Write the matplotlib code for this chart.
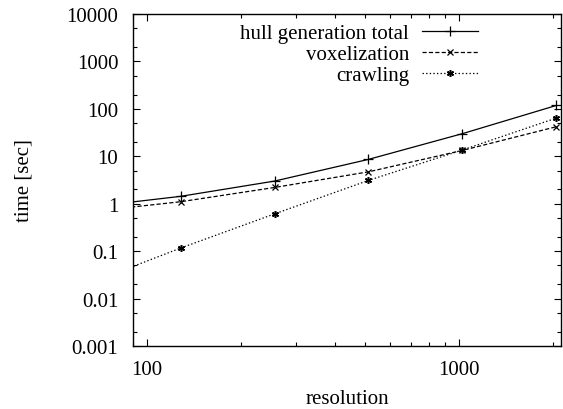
import numpy as np
import matplotlib
matplotlib.use("Agg")
import matplotlib.pyplot as plt
from matplotlib.ticker import LogLocator, FixedLocator, NullFormatter

plt.rcParams['font.family'] = ['Liberation Serif', 'DejaVu Serif']
plt.rcParams['lines.scale_dashes'] = False

# data (resolution vs. seconds)
resolution = [64, 128, 256, 512, 1024, 2048]
hull_total = [0.84, 1.43, 3.0, 8.6, 30.0, 118.0]
voxelization = [0.67, 1.1, 2.2, 4.7, 13.3, 42.0]
crawling = [0.020, 0.116, 0.61, 3.1, 13.6, 64.0]

xticks = [100, 1000]
yticks = [0.001, 0.01, 0.1, 1, 10, 100, 1000, 10000]
ytick_labels = ['0.001', '0.01', '0.1', '1', '10', '100', '1000', '10000']

fs = 15
fig = plt.figure(figsize=(5.63, 4.10), dpi=100)
ax = fig.add_axes([0.236, 0.1537, 0.7605, 0.8097])

ax.plot(resolution, hull_total, color='black', lw=0.9, ls='-',
        marker='+', ms=7, mew=0.9, label='hull generation total')
ax.plot(resolution, voxelization, color='black', lw=0.9, ls=(0, (3, 1.6)),
        marker='x', ms=5, mew=0.9, label='voxelization')
ax.plot(resolution, crawling, color='black', lw=0.9, ls=(0, (1, 1.6)),
        marker=(6, 2, 0), ms=5, mew=1.1, label='crawling')

ax.set_xscale('log')
ax.set_yscale('log')
ax.set_xlim(90, 2120)
ax.set_ylim(0.001, 10000)

ax.xaxis.set_major_locator(FixedLocator(xticks))
ax.set_xticklabels([str(t) for t in xticks])
ax.xaxis.set_minor_locator(LogLocator(base=10, subs=np.arange(2, 10), numticks=20))
ax.xaxis.set_minor_formatter(NullFormatter())
ax.yaxis.set_major_locator(FixedLocator(yticks))
ax.set_yticklabels(ytick_labels)
ax.yaxis.set_minor_locator(LogLocator(base=10, subs=[2, 5], numticks=30))
ax.yaxis.set_minor_formatter(NullFormatter())

ax.tick_params(which='both', direction='in', top=True, right=True,
               labelsize=fs, width=0.8)
ax.tick_params(which='major', length=5)
ax.tick_params(which='minor', length=3)
ax.tick_params(axis='y', which='major', pad=10.5)
ax.tick_params(axis='x', which='major', pad=10)

for s in ax.spines.values():
    s.set_linewidth(1.0)

ax.set_xlabel('resolution', fontsize=fs, labelpad=7)
ax.set_ylabel('time [sec]', fontsize=fs, labelpad=24)

leg = ax.legend(loc='upper right', bbox_to_anchor=(0.806, 0.972),
                frameon=False, markerfirst=False, fontsize=fs,
                handlelength=2.7, handletextpad=0.6, labelspacing=0.07,
                borderpad=0, borderaxespad=0, numpoints=1)

fig.savefig('out.png', dpi=100)
